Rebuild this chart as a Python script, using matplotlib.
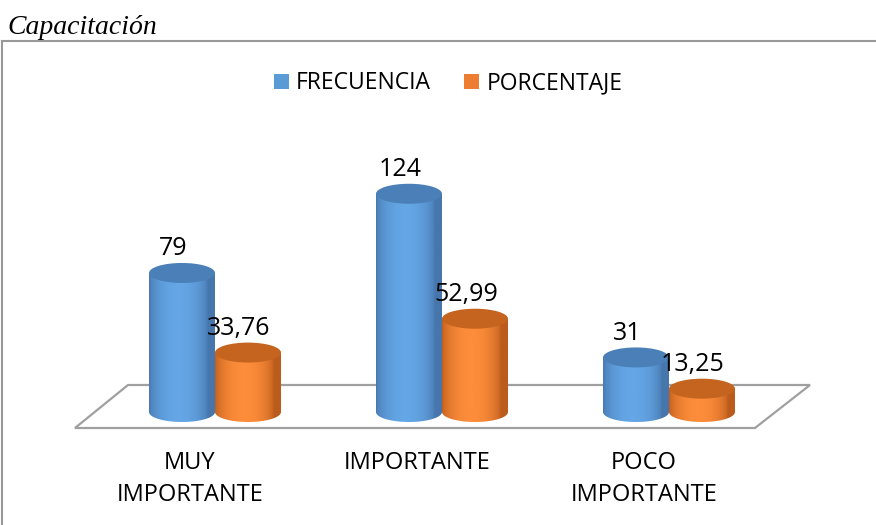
import numpy as np
import matplotlib.pyplot as plt
import matplotlib.colors as mcolors
from matplotlib.patches import Ellipse, Polygon, PathPatch, Rectangle
from matplotlib.path import Path

plt.rcParams['font.family'] = ['Open Sans', 'DejaVu Sans']

categories = ['MUY\nIMPORTANTE', 'IMPORTANTE', 'POCO\nIMPORTANTE']
series_names = ['FRECUENCIA', 'PORCENTAJE']
series_colors = ['#5b9bd5', '#ed7d31']
frecuencia = [79, 124, 31]
porcentaje = [33.76, 52.99, 13.25]
value_labels = [['79', '124', '31'], ['33,76', '52,99', '13,25']]

W, H = 876, 525
fig = plt.figure(figsize=(W / 100, H / 100), dpi=100)
ax = fig.add_axes([0, 0, 1, 1])

# pixel -> data helpers (one category step = 227 px, one unit of value = 1.76 px)
step_px, unit_px = 227.0, 1.76
x0_px, base_px = 215.0, 412.0
ax.axis('off')

def px_w(p):
    return p / step_px

def px_h(p):
    return p / unit_px

# floor
front, back = px_h(-16), px_h(27)
floor = Polygon([(px_w(75 - x0_px), front), (px_w(755 - x0_px), front),
                 (px_w(810 - x0_px), back), (px_w(128 - x0_px), back)],
                closed=True, fill=False, edgecolor='#a0a0a0', lw=1.6, zorder=1)
ax.add_patch(floor)

bw = px_w(66)
eh = px_h(20)
styles = [
    dict(dark='#4676ac', light='#64a6e6', top='#4a7fb8', off=-px_w(33)),
    dict(dark='#bb5c1c', light='#fd8d3a', top='#c5641f', off=px_w(33)),
]

t = np.linspace(0, 1, 200)
shade = np.clip(np.sin(np.pi * np.clip(t * 1.12, 0, 1)) ** 0.55, 0, 1)

for s_i, vals in enumerate([frecuencia, porcentaje]):
    st = styles[s_i]
    cmap = mcolors.LinearSegmentedColormap.from_list('c', [st['dark'], st['light']])
    for i, v in enumerate(vals):
        cx = i + st['off']
        left, right = cx - bw / 2, cx + bw / 2
        # body path: rectangle + bottom half ellipse
        theta = np.linspace(np.pi, 2 * np.pi, 40)
        bottom = np.column_stack([cx + bw / 2 * np.cos(theta), 0 + eh / 2 * np.sin(theta)])
        verts = [(left, v)] + bottom.tolist() + [(right, v), (left, v)]
        body = PathPatch(Path(verts), facecolor='none', edgecolor='none', zorder=2 + i * 2 + s_i)
        ax.add_patch(body)
        img = ax.imshow(shade[np.newaxis, :], cmap=cmap, vmin=0, vmax=1, aspect='auto',
                        extent=[left, right, -eh, v], zorder=2 + i * 2 + s_i,
                        interpolation='bilinear')
        img.set_clip_path(body)
        top = Ellipse((cx, v), bw, eh, facecolor=st['top'], edgecolor='none',
                      zorder=2.5 + i * 2 + s_i)
        ax.add_patch(top)
        ax.text(cx - px_w(9), v + px_h(24), value_labels[s_i][i], ha='center', va='center',
                fontsize=18, color='black', zorder=10)

ax.set_xlim(-x0_px / step_px, (W - x0_px) / step_px)
ax.set_ylim(-(H - base_px) / unit_px, base_px / unit_px)

for i, c in enumerate(categories):
    ax.text(i - px_w(25), px_h(412 - 451), c, ha='center', va='top', fontsize=17,
            linespacing=1.45, color='black')

# legend (drawn by hand so both entries share one baseline)
for (sq_x, tx_x), name, col in zip([(274, 296), (464, 487)], series_names, series_colors):
    fig.add_artist(Rectangle((sq_x / W, 1 - 89 / H), 15 / W, 15 / H,
                             transform=fig.transFigure, facecolor=col, edgecolor='none'))
    fig.text(tx_x / W, 1 - 89 / H, name, fontsize=16.5, ha='left', va='baseline')

# title and frame
fig.text(7 / W, 1 - 28 / H, 'Capacitación', fontsize=20, style='italic',
         family='Liberation Serif', va='center', ha='left')
fig.add_artist(plt.Line2D([2 / W, 1], [1 - 41 / H, 1 - 41 / H], color='#999999', lw=1.5))
fig.add_artist(plt.Line2D([2 / W, 2 / W], [0, 1 - 41 / H], color='#999999', lw=1.5))

fig.savefig('out.png', dpi=100)
